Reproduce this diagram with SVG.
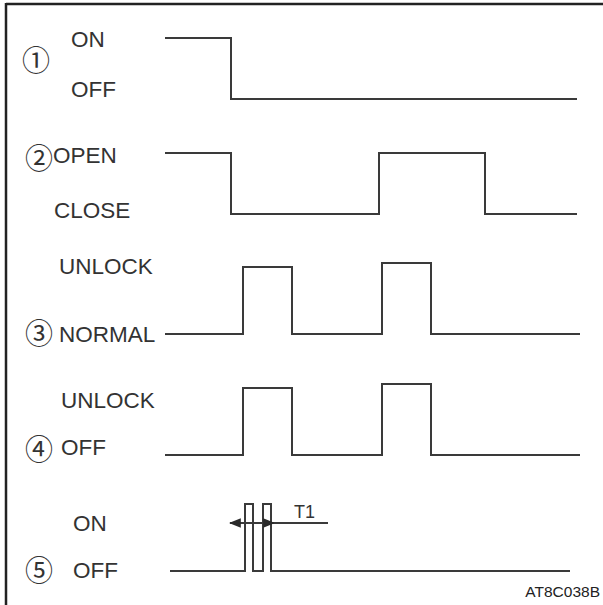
<svg xmlns="http://www.w3.org/2000/svg" width="603" height="605" viewBox="0 0 603 605">
<style>
.sig{fill:none;stroke:#3a3a3a;stroke-width:2;stroke-linejoin:miter}
.lbl{font-family:"Liberation Sans",Arial,sans-serif;font-size:22.5px;fill:#333}
.num{font-family:"Noto Sans CJK JP","DejaVu Sans",sans-serif;font-size:28px;fill:#333}
.code{font-family:"Liberation Sans",Arial,sans-serif;font-size:15.5px;fill:#222}
</style>
<defs>
<marker id="arr" viewBox="0 0 10 10" refX="9" refY="5" markerWidth="6" markerHeight="6" orient="auto-start-reverse">
<path d="M0,1 L10,5 L0,9 z" fill="#2a2a2a"/>
</marker>
</defs>
<rect width="603" height="605" fill="#fff"/>
<g id="frame">
<line x1="6" y1="4" x2="603" y2="4" stroke="#222" stroke-width="2.5"/>
<line x1="6" y1="3" x2="6" y2="605" stroke="#222" stroke-width="2.5"/>
</g>
<g id="signal1">
<text class="num" x="22" y="71">①</text>
<text class="lbl" x="71" y="47">ON</text>
<text class="lbl" x="71" y="97">OFF</text>
</g>
<g id="signal2">
<text class="num" x="25" y="168.5">②</text>
<text class="lbl" x="53" y="163">OPEN</text>
<text class="lbl" x="54" y="218">CLOSE</text>
</g>
<g id="signal3">
<text class="lbl" x="59" y="274">UNLOCK</text>
<text class="num" x="25" y="344">③</text>
<text class="lbl" x="59" y="342">NORMAL</text>
</g>
<g id="signal4">
<text class="lbl" x="61" y="408">UNLOCK</text>
<text class="num" x="25" y="460">④</text>
<text class="lbl" x="61" y="455">OFF</text>
</g>
<g id="signal5">
<text class="lbl" x="73" y="531">ON</text>
<text class="num" x="25" y="581">⑤</text>
<text class="lbl" x="73" y="578">OFF</text>
<text class="lbl" x="294" y="518" style="font-size:18px">T1</text>
</g>
<g id="connectors">
<polyline class="sig" points="165,38 231,38 231,99 577,99"/>
<polyline class="sig" points="165,153 231,153 231,214 379,214 379,153 485,153 485,214 577,214"/>
<polyline class="sig" points="165,334 243,334 243,267 292,267 292,334 382,334 382,263 431,263 431,334 580,334"/>
<polyline class="sig" points="165,455 243,455 243,388 292,388 292,455 382,455 382,384 431,384 431,455 580,455"/>
<polyline class="sig" points="170,571 245,571 245,504 253,504 253,571 263,571 263,504 271,504 271,571 570,571"/>
<line class="sig" x1="230" y1="523" x2="274" y2="523" stroke-width="1.5" marker-start="url(#arr)" marker-end="url(#arr)"/>
<line class="sig" x1="274" y1="523" x2="328" y2="523" stroke-width="1.5"/>
</g>
<text class="code" x="600" y="597" text-anchor="end">AT8C038B</text>
</svg>
